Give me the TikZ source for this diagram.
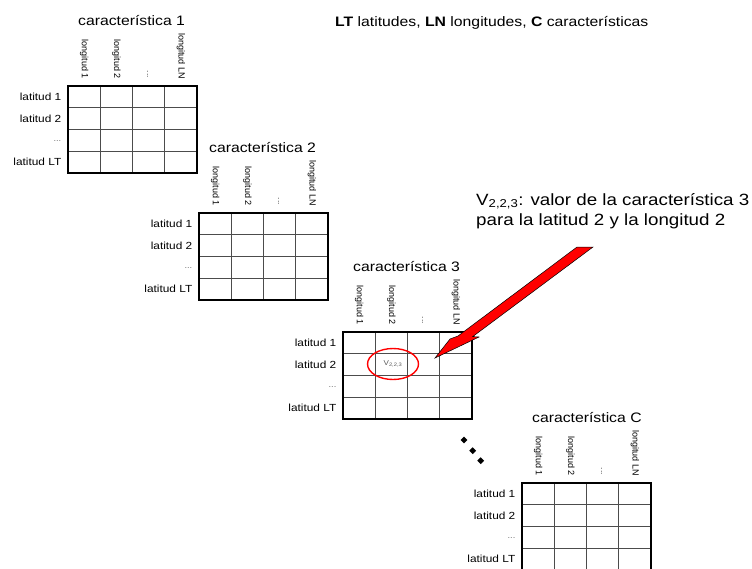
\documentclass[tikz,border=0pt]{standalone}
\usepackage{fontspec}
\setmainfont{Liberation Sans}[FakeStretch=1.15]
\newfontfamily\rotfont{Liberation Sans}
\usetikzlibrary{shapes.geometric}
\tikzset{
  titulo/.style={font=\fontsize{13.7}{16}\selectfont, inner sep=0pt, anchor=base west},
  latlab/.style={font=\fontsize{10.3}{12}\selectfont, anchor=east, inner sep=0pt},
  puntos/.style={font=\fontsize{8}{10}\selectfont, text=black!60, anchor=east, inner sep=0pt},
  lonlab/.style={font=\rotfont\fontsize{9}{10}\selectfont, rotate=-90, anchor=east, inner sep=0pt},
  lonpuntos/.style={font=\rotfont\fontsize{8.5}{10}\selectfont, text=black!75, rotate=-90, anchor=east, inner sep=0pt},
  borde/.style={line width=1.8pt, line join=miter},
  interior/.style={line width=0.9pt, draw=black!70},
  punto/.style={diamond, fill=black, inner sep=0pt, minimum size=7pt},
  nota/.style={font=\fontsize{16.3}{19}\selectfont, inner sep=0pt, anchor=base west},
}
\newcommand{\matriz}[4]{%
  \begin{scope}[shift={(#2,#3)}]
    \foreach \c in {1,2,3} \draw[interior] (\c*32.25,0) -- (\c*32.25,87);
    \foreach \r in {1,2,3} \draw[interior] (0,\r*21.75) -- (129,\r*21.75);
    \draw[borde] (0,0) rectangle (129,87);
    \node[titulo] (#1-t) at (10,-61) {#4};
    \node[lonlab] (#1-c1) at (16.1,-7) {longitud 1};
    \node[lonlab] (#1-c2) at (48.4,-7) {longitud 2};
    \node[lonpuntos] (#1-c3) at (79.6,-8) {...};
    \node[lonlab] (#1-c4) at (112.9,-7) {longitud LN};
    \node[latlab] (#1-r1) at (-6.5,10.9) {latitud 1};
    \node[latlab] (#1-r2) at (-6.5,32.6) {latitud 2};
    \node[puntos] (#1-r3) at (-6.5,55.5) {...};
    \node[latlab] (#1-r4) at (-6.5,76.1) {latitud LT};
  \end{scope}}
\begin{document}
\begin{tikzpicture}[x=1pt, y=-1pt]
  \useasboundingbox (0,0) rectangle (752,568);
  \clip (0,0) rectangle (752,568);
  \matriz{m1}{68}{86}{característica 1}
  \matriz{m2}{199}{213}{característica 2}
  \matriz{m3}{343}{332}{característica 3}
  \matriz{m4}{522}{483}{característica C}
  \node[inner sep=0pt, anchor=base west, font=\fontsize{13.7}{16}\selectfont] (leyenda) at (335,26)
    {\textbf{LT} latitudes, \textbf{LN} longitudes, \textbf{C} características};
  \node[nota] (nota1) at (476,205) {V\textsubscript{2,2,3}: valor de la característica 3};
  \node[nota] (nota2) at (476,225) {para la latitud 2 y la longitud 2};
  \node[ellipse, draw=red, line width=1.4pt, minimum width=51pt, minimum height=31pt,
        inner sep=0pt, text=black!65, font=\fontsize{7}{8}\selectfont] (v) at (393,364) {V\textsubscript{2,2,3}};
  \filldraw[fill=red, draw=black, line width=0.5pt, line join=miter]
    (435,358) -- (479,337) -- (472.7,336.6) -- (593,247) -- (577,247)
    -- (458,336) -- (450,339) -- cycle;
  \node[punto] (d1) at (464,440) {};
  \node[punto] (d2) at (472.7,450.7) {};
  \node[punto] (d3) at (480.7,460.7) {};
\end{tikzpicture}
\end{document}
